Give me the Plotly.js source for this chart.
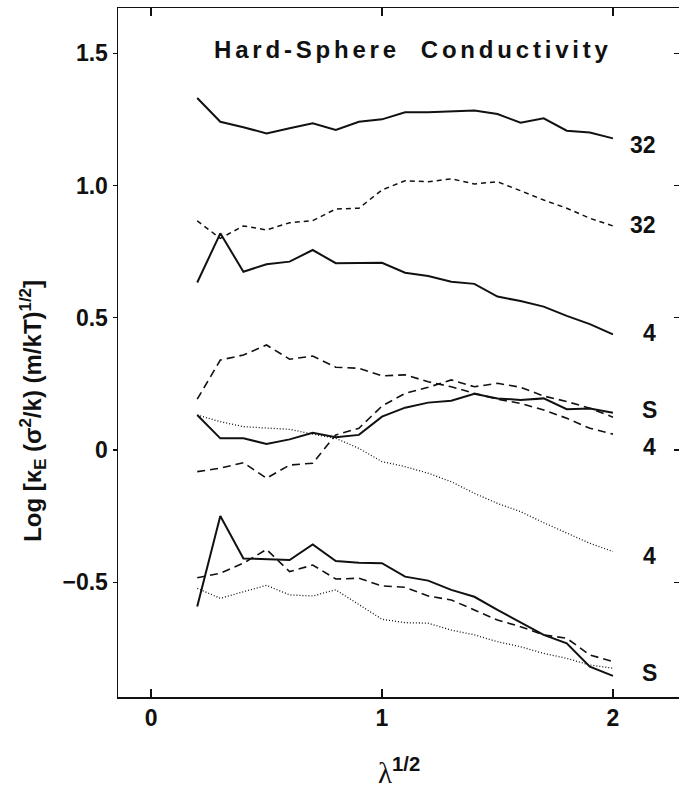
<!DOCTYPE html>
<html><head><meta charset="utf-8">
<script src="https://cdn.plot.ly/plotly-3.0.1.min.js"></script>
<style>body{margin:0;background:#fff}#c{width:680px;height:791px}</style>
</head><body><div id="c"></div>
<script>
const lam = [0.2,0.3,0.4,0.5,0.6,0.7,0.8,0.9,1.0,1.1,1.2,1.3,1.4,1.5,1.6,1.7,1.8,1.9,2.0];

const solid32  = [1.331,1.241,1.220,1.197,1.216,1.235,1.210,1.241,1.250,1.277,1.277,1.279,1.283,1.270,1.237,1.254,1.207,1.200,1.178];
const dash32   = [0.866,0.800,0.847,0.832,0.859,0.867,0.911,0.914,0.983,1.018,1.014,1.025,1.006,1.014,0.980,0.945,0.914,0.876,0.847];
const solid4   = [0.633,0.819,0.674,0.702,0.712,0.756,0.706,0.708,0.708,0.670,0.658,0.636,0.628,0.580,0.563,0.542,0.507,0.476,0.437];
const dash4a   = [0.192,0.340,0.359,0.397,0.343,0.355,0.313,0.309,0.280,0.284,0.258,0.239,0.214,0.192,0.176,0.151,0.120,0.082,0.060];
const dashS    = [-0.082,-0.069,-0.048,-0.107,-0.057,-0.050,0.057,0.082,0.166,0.214,0.237,0.265,0.239,0.252,0.237,0.204,0.183,0.158,0.124];
const solidS   = [0.132,0.044,0.044,0.023,0.040,0.065,0.048,0.057,0.126,0.160,0.179,0.186,0.212,0.195,0.189,0.195,0.154,0.157,0.141];
const dot4     = [0.132,0.107,0.088,0.082,0.078,0.060,0.044,0.006,-0.044,-0.063,-0.088,-0.120,-0.164,-0.202,-0.233,-0.275,-0.315,-0.353,-0.384];
const solidLow = [-0.592,-0.250,-0.410,-0.412,-0.416,-0.357,-0.420,-0.426,-0.428,-0.479,-0.494,-0.529,-0.555,-0.605,-0.653,-0.699,-0.731,-0.819,-0.854];
const dashLow  = [-0.483,-0.466,-0.428,-0.376,-0.460,-0.435,-0.488,-0.485,-0.514,-0.519,-0.552,-0.567,-0.605,-0.643,-0.668,-0.699,-0.712,-0.775,-0.800];
const dotLow   = [-0.523,-0.561,-0.536,-0.512,-0.548,-0.552,-0.529,-0.586,-0.640,-0.653,-0.655,-0.681,-0.699,-0.725,-0.744,-0.769,-0.788,-0.813,-0.825];

const curveLabels = ["32","32","4","S","4","4","S"];
const labelY = [1.153,0.851,0.442,0.151,0.011,-0.400,-0.845];
const yTicks = [-0.5,0,0.5,1.0,1.5];
const yTickText = ["\u22120.5","0","0.5","1.0","1.5"];
const xTicks = [0,1,2];
const xTickText = ["0","1","2"];

const chartTitle = "Hard-Sphere  Conductivity";
const yTitle = "Log [\u03ba<sub>E</sub> (\u03c3<sup>2</sup>/k) (m/kT)<sup>1/2</sup>]";
const xTitle = '<span style="font-family:\'Liberation Serif\', serif;font-weight:400">\u03bb</span><sup>1/2</sup>';

const ink = "#111";
const sans = "Liberation Sans, Arial, Helvetica, sans-serif";
function tr(y, dash, w){
  return {x: lam, y: y, type:"scatter", mode:"lines", hoverinfo:"skip",
          line:{color:ink, width:w, dash:dash}, showlegend:false};
}
const traces = [
  tr(solid32,"solid",2),
  tr(dash32,"5px,4px",1.5),
  tr(solid4,"solid",2),
  tr(dash4a,"8px,5px",1.6),
  tr(dashS,"8px,5px",1.6),
  tr(solidS,"solid",2),
  tr(dot4,"1px,2px",1.3),
  tr(solidLow,"solid",2),
  tr(dashLow,"8px,5px",1.6),
  tr(dotLow,"1px,2px",1.3),
  {x:[], y:[], yaxis:"y2", type:"scatter", mode:"lines", showlegend:false, hoverinfo:"skip"}
];

const tickFont = {family:sans, size:23, color:ink, weight:700};
const annotations = curveLabels.map((t,i)=>({
  x: (t==="32") ? 2.13 : 2.16, y: labelY[i], xref:"x", yref:"y",
  text: t, showarrow:false, font:{family:sans, size:23, color:ink, weight:700},
  xanchor:"center", yanchor:"middle"
}));
annotations.push({x:0.526, y:1.516, xref:"paper", yref:"y",
  text:'<span style="letter-spacing:3.8px">'+chartTitle+'</span>',
  showarrow:false, xanchor:"center", yanchor:"middle",
  font:{family:sans, size:24, color:ink, weight:700}});
annotations.push({x:-0.152, y:0.415, xref:"paper", yref:"paper", text:yTitle, textangle:-90,
  showarrow:false, xanchor:"center", yanchor:"middle",
  font:{family:sans, size:24, color:ink, weight:700}});
annotations.push({x:0.5, y:-0.107, xref:"paper", yref:"paper", text:xTitle,
  showarrow:false, xanchor:"center", yanchor:"middle",
  font:{family:sans, size:29, color:ink, weight:700}});

const layout = {
  width:680, height:791,
  margin:{l:118, r:1, t:8, b:94},
  paper_bgcolor:"#fff", plot_bgcolor:"#fff",
  showlegend:false,
  xaxis:{range:[-0.143,2.286], tickvals:xTicks, ticktext:xTickText,
    ticks:"inside", ticklen:8, tickwidth:1.3, tickcolor:ink,
    showline:true, linecolor:ink, linewidth:1.5, mirror:"ticks",
    showgrid:false, zeroline:false, tickfont:tickFont},
  yaxis:{range:[-0.934,1.671], tickvals:yTicks, ticktext:yTickText,
    ticks:"outside", ticklen:4, tickwidth:1.3, tickcolor:ink,
    showline:true, linecolor:ink, linewidth:1.5, mirror:false,
    showgrid:false, zeroline:false, tickfont:tickFont},
  yaxis2:{range:[-0.934,1.671], overlaying:"y", side:"right", tickvals:yTicks,
    ticks:"inside", ticklen:5, tickwidth:1.3, tickcolor:ink, showticklabels:false,
    showline:false, showgrid:false, zeroline:false},
  annotations: annotations
};
Plotly.newPlot("c", traces, layout, {displayModeBar:false, staticPlot:true});
</script></body></html>
